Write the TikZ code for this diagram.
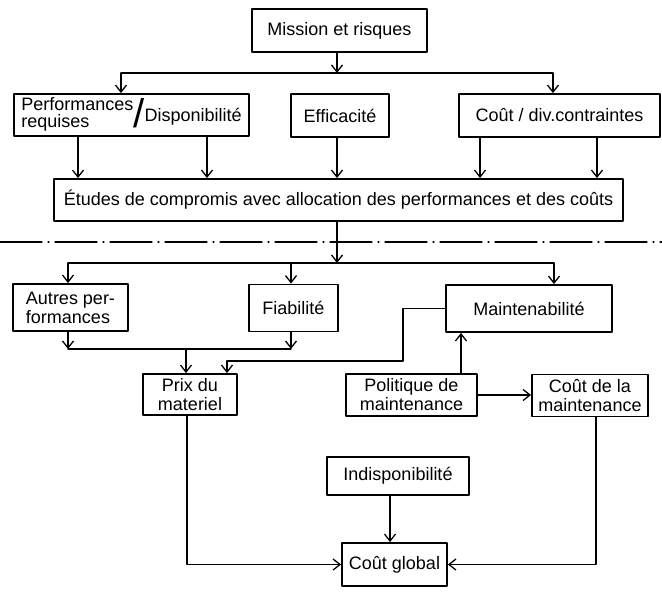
\documentclass[tikz,border=0pt]{standalone}
\usepackage{fontspec}
\setmainfont{Liberation Sans}
\usetikzlibrary{arrows.meta}
\begin{document}
\begin{tikzpicture}[x=1pt, y=-1pt, line cap=round, line join=round, font=\fontsize{18}{19}\selectfont, >={Straight Barb[length=7pt,width=11pt]}, line width=1.3pt]
	\tikzset{box/.style={draw, line width=1.8pt, align=center, inner sep=2pt}}
	\useasboundingbox (0,0) rectangle (662,594);
	\node[box, minimum width=175pt, minimum height=43pt] (mission) at (339.5,30.5) {Mission et risques};
	\node[box, minimum width=235pt, minimum height=42pt, inner sep=1pt] (perf) at (131.5,115) {\begin{tabular}{@{}l@{}}Performances\\[-2pt]requises\end{tabular}\raisebox{-8pt}{\fontsize{40}{40}\selectfont/}\raisebox{-2pt}{Disponibilité}};
	\node[box, minimum width=98pt, minimum height=43pt] (effic) at (340,115.5) {Efficacité};
	\node[box, minimum width=201pt, minimum height=43pt] (cout) at (559.5,115.5) {Coût / div.contraintes};
	\node[box, minimum width=569pt, minimum height=42pt] (etudes) at (338.5,200) {Études de compromis avec allocation des performances et des coûts};
	\node[box, align=left, minimum width=115pt, minimum height=47pt] (autres) at (70.5,307.5) {Autres per-\\formances};
	\node[box, minimum width=89pt, minimum height=47pt] (fiab) at (293.5,308) {Fiabilité};
	\node[box, minimum width=166pt, minimum height=47pt] (maint) at (529,308.5) {Maintenabilité};
	\node[box, minimum width=94pt, minimum height=41pt] (prix) at (190,394.5) {Prix du\\materiel};
	\node[box, minimum width=131pt, minimum height=42pt] (polit) at (411.5,395) {Politique de\\maintenance};
	\node[box, minimum width=116pt, minimum height=42pt] (coutm) at (590,395.5) {Coût de la\\maintenance};
	\node[box, minimum width=142pt, minimum height=38pt] (indisp) at (398,476) {Indisponibilité};
	\node[box, minimum width=105pt, minimum height=43pt] (global) at (394.5,564.5) {Coût global};
	\coordinate (a1) at (337,0);
	\coordinate (b1) at (121,73);
	\coordinate (b2) at (553,73);
	\draw[->] (mission.south -| a1) -- (b1 -| a1);
	\draw (b1) -- (b2);
	\draw[->] (b1) -- (b1 |- perf.north);
	\draw[->] (b2) -- (b2 |- cout.north);
	\foreach \x/\n in {78/perf,207/perf,337/effic,480/cout,597/cout}{
		\coordinate (u) at (\x,0);
		\draw[->] (\n.south -| u) -- (etudes.north -| u);
	}
	\draw[dash pattern=on 42pt off 6pt on 1pt off 6pt] (0,242) -- (662,242);
	\coordinate (c1) at (68,263);
	\coordinate (c2) at (554,263);
	\coordinate (c3) at (291,263);
	\draw[->] (etudes.south -| a1) -- (c1 -| a1);
	\draw (c1) -- (c2);
	\draw[->] (c1) -- (c1 |- autres.north);
	\draw[->] (c3) -- (c3 |- fiab.north);
	\draw[->] (c2) -- (c2 |- maint.north);
	\coordinate (j1) at (68,349);
	\coordinate (j2) at (291,349);
	\coordinate (j3) at (186,349);
	\draw[->] (j1 |- autres.south) -- (j1);
	\draw[->] (j2 |- fiab.south) -- (j2);
	\draw (j1) -- (j2);
	\draw[->] (j3) -- (j3 |- prix.north);
	\coordinate (k1) at (403,361);
	\coordinate (k2) at (227,361);
	\draw[->] (maint.west) -| (k1) -- (k2) -- (k2 |- prix.north);
	\coordinate (p1) at (461,0);
	\draw[->] (polit.north -| p1) -- (maint.south -| p1);
	\draw[->] (polit) -- (polit -| coutm.west);
	\coordinate (d1) at (390,0);
	\draw[->] (indisp.south -| d1) -- (global.north -| d1);
	\coordinate (q1) at (187,0);
	\coordinate (q2) at (596,0);
	\draw[->] (prix.south -| q1) |- (global.west);
	\draw[->] (coutm.south -| q2) |- (global.east);
\end{tikzpicture}
\end{document}
